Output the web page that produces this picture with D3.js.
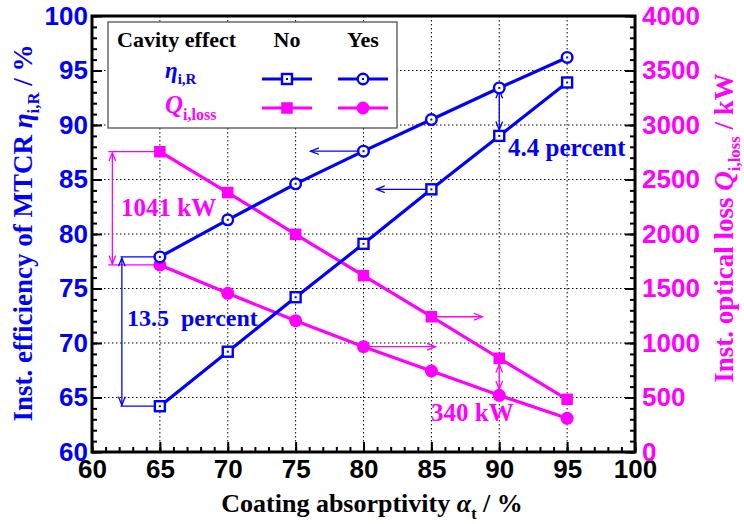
<!DOCTYPE html>
<html lang="en">
  <head>
    <meta charset="utf-8">
    <style type="text/css">
      body { margin: 0; background: #fff; }
      svg { font-family: "Liberation Serif", "Times New Roman", serif; font-weight: bold; }
      .grid line { stroke: #000; stroke-width: 1; stroke-dasharray: 1.5,2.5; }
      .axis path { display: none; }
      .axis line { stroke: #000; stroke-width: 2; }
    </style>
  </head>
  <body>
    <svg id="chart" width="744" height="524"></svg>
    <script src="https://cdn.jsdelivr.net/npm/d3@7"></script>
    <script type="text/javascript">
// coating absorptivity (%)
var alpha = [65, 70, 75, 80, 85, 90, 95];
// instantaneous efficiency of MTCR (%)
var etaNo  = [64.2, 69.2, 74.2, 79.1, 84.1, 89.0, 93.9];
var etaYes = [77.9, 81.3, 84.6, 87.6, 90.5, 93.4, 96.2];
// instantaneous optical loss (kW)
var qNo  = [2755, 2380, 1997, 1618, 1241, 860, 483];
var qYes = [1716, 1456, 1205, 966, 743, 520, 309];

var xTicks = [60, 65, 70, 75, 80, 85, 90, 95, 100];
var yLeftTicks = [60, 65, 70, 75, 80, 85, 90, 95, 100];
var yRightTicks = [0, 500, 1000, 1500, 2000, 2500, 3000, 3500, 4000];

var blue = "#0000ff", magenta = "#ff00ff";

var margin = { top: 16, right: 109, bottom: 72, left: 92 };
var width = 744, height = 524;

var svg = d3.select("#chart");

var x = d3.scaleLinear().domain([60, 100]).range([margin.left, width - margin.right]);
var yL = d3.scaleLinear().domain([60, 100]).range([height - margin.bottom, margin.top]);
var yR = d3.scaleLinear().domain([0, 4000]).range([height - margin.bottom, margin.top]);

var x0 = x.range()[0], x1 = x.range()[1], yb = yL.range()[0], yt = yL.range()[1];

// grid
var grid = svg.append("g").attr("class", "grid");
grid.selectAll("line.v").data(xTicks.slice(1, -1)).enter().append("line")
  .attr("x1", function(d) { return x(d); }).attr("x2", function(d) { return x(d); })
  .attr("y1", yt).attr("y2", yb);
grid.selectAll("line.h").data(yLeftTicks.slice(1, -1)).enter().append("line")
  .attr("x1", x0).attr("x2", x1)
  .attr("y1", function(d) { return yL(d); }).attr("y2", function(d) { return yL(d); });

// axes (ticks inward)
svg.append("g").attr("class", "axis").attr("transform", "translate(0," + yb + ")")
  .call(d3.axisBottom(x).tickValues(d3.range(60, 101, 1)).tickSize(-5).tickFormat(""));
var xAxis = svg.append("g").attr("class", "axis").attr("transform", "translate(0," + yb + ")")
  .call(d3.axisBottom(x).tickValues(xTicks).tickSize(-10).tickPadding(8));
xAxis.selectAll("text").attr("font-size", 26).attr("fill", "#000").attr("font-family", null);

svg.append("g").attr("class", "axis").attr("transform", "translate(" + x0 + ",0)")
  .call(d3.axisLeft(yL).tickValues(d3.range(60, 101, 1)).tickSize(-5).tickFormat(""));
var yAxisL = svg.append("g").attr("class", "axis").attr("transform", "translate(" + x0 + ",0)")
  .call(d3.axisLeft(yL).tickValues(yLeftTicks).tickSize(-10).tickPadding(4));
yAxisL.selectAll("text").attr("font-size", 26).attr("fill", blue).attr("font-family", null);

svg.append("g").attr("class", "axis").attr("transform", "translate(" + x1 + ",0)")
  .call(d3.axisRight(yR).tickValues(d3.range(0, 4001, 100)).tickSize(-5).tickFormat(""));
var yAxisR = svg.append("g").attr("class", "axis").attr("transform", "translate(" + x1 + ",0)")
  .call(d3.axisRight(yR).tickValues(yRightTicks).tickFormat(d3.format("d")).tickSize(-10).tickPadding(7));
yAxisR.selectAll("text").attr("font-size", 26).attr("fill", magenta).attr("font-family", null);

svg.selectAll(".axis text").attr("font-weight", "bold");

// frame
svg.append("rect").attr("x", x0).attr("y", yt).attr("width", x1 - x0).attr("height", yb - yt)
  .attr("fill", "none").attr("stroke", "#000").attr("stroke-width", 3);

// axis titles
function labelWithSub(sel, before, sym, sub, after, size) {
  sel.append("tspan").text(before);
  sel.append("tspan").attr("font-style", "italic").text(sym);
  sel.append("tspan").attr("font-size", size * 0.62).attr("dy", size * 0.25).text(sub);
  sel.append("tspan").attr("dy", -size * 0.25).text(after);
}
var tl = svg.append("text").attr("transform", "translate(32,233) rotate(-90)")
  .attr("text-anchor", "middle").attr("font-size", 27).attr("fill", blue);
labelWithSub(tl, "Inst. efficiency of MTCR ", "\u03b7", "i,R", " / %", 27);

var tr = svg.append("text").attr("transform", "translate(733,228) rotate(-90)")
  .attr("text-anchor", "middle").attr("font-size", 27).attr("fill", magenta);
labelWithSub(tr, "Inst. optical loss ", "Q", "i,loss", " / kW", 27);

var tb = svg.append("text").attr("x", 372).attr("y", 512)
  .attr("text-anchor", "middle").attr("font-size", 26).attr("fill", "#000");
labelWithSub(tb, "Coating absorptivity ", "\u03b1", "t", " / %", 26);

// arrows
var ann = svg.append("g");
function arrowHead(g, xa, ya, xb, yb2, color) {
  var a = Math.atan2(yb2 - ya, xb - xa), L = 9, w = 0.38;
  g.append("path")
    .attr("d", "M" + (xb - L * Math.cos(a - w)) + "," + (yb2 - L * Math.sin(a - w)) +
      "L" + xb + "," + yb2 + "L" + (xb - L * Math.cos(a + w)) + "," + (yb2 - L * Math.sin(a + w)))
    .attr("fill", "none").attr("stroke", color).attr("stroke-width", 1.3);
}
function arrow(xa, ya, xb, yb2, color, both) {
  ann.append("line").attr("x1", xa).attr("y1", ya).attr("x2", xb).attr("y2", yb2)
    .attr("stroke", color).attr("stroke-width", 1.3);
  arrowHead(ann, xa, ya, xb, yb2, color);
  if (both) arrowHead(ann, xb, yb2, xa, ya, color);
}
function hline(xa, xb, yy, color) {
  ann.append("line").attr("x1", xa).attr("x2", xb).attr("y1", yy).attr("y2", yy)
    .attr("stroke", color).attr("stroke-width", 1.3);
}

// 1041 kW bracket
hline(x(61.2), x(alpha[0]), yR(qNo[0]), magenta);
hline(x(61.2), x(alpha[0]), yR(qYes[0]), magenta);
arrow(x(61.5), yR(qNo[0]) + 1, x(61.5), yR(qYes[0]) - 1, magenta, true);
// 13.5 percent bracket
hline(x(62.1), x(alpha[0]), yL(etaYes[0]), blue);
hline(x(62.1), x(alpha[0]), yL(etaNo[0]), blue);
arrow(x(62.2), yL(etaYes[0]) + 1, x(62.2), yL(etaNo[0]) - 1, blue, true);
// 4.4 percent
arrow(x(alpha[5]), yL(etaYes[5]) + 2, x(alpha[5]), yL(etaNo[5]) - 6, blue, true);
// 340 kW
arrow(x(alpha[5]), yR(qNo[5]) + 6, x(alpha[5]), yR(qYes[5]) - 6, magenta, true);
// axis pointers
arrow(x(alpha[3]), yL(etaYes[3]), x(76.1), yL(etaYes[3]), blue, false);
arrow(x(alpha[4]), yL(etaNo[4]), x(80.95), yL(etaNo[4]), blue, false);
arrow(x(alpha[4]), yR(qNo[4]), x(88.75), yR(qNo[4]), magenta, false);
arrow(x(alpha[3]), yR(qYes[3]), x(85.3), yR(qYes[3]), magenta, false);

// series
var lineL = d3.line().x(function(d, i) { return x(alpha[i]); }).y(function(d) { return yL(d); });
var lineR = d3.line().x(function(d, i) { return x(alpha[i]); }).y(function(d) { return yR(d); });

function pathOf(data, gen, color) {
  svg.append("path").datum(data).attr("d", gen)
    .attr("fill", "none").attr("stroke", color).attr("stroke-width", 3.2);
}
pathOf(qNo, lineR, magenta);
pathOf(qYes, lineR, magenta);
pathOf(etaNo, lineL, blue);
pathOf(etaYes, lineL, blue);

function squareMarkers(g, pts, color, open) {
  var s = open ? 10 : 11.5;
  g.selectAll(null).data(pts).enter().append("rect")
    .attr("x", function(d) { return d[0] - s / 2; }).attr("y", function(d) { return d[1] - s / 2; })
    .attr("width", s).attr("height", s)
    .attr("fill", open ? "#fff" : color).attr("stroke", open ? color : "none").attr("stroke-width", 2.4);
  if (open) g.selectAll(null).data(pts).enter().append("rect")
    .attr("x", function(d) { return d[0] - 1; }).attr("y", function(d) { return d[1] - 1; })
    .attr("width", 2).attr("height", 2).attr("fill", color);
}
function circleMarkers(g, pts, color, open) {
  g.selectAll(null).data(pts).enter().append("circle")
    .attr("cx", function(d) { return d[0]; }).attr("cy", function(d) { return d[1]; })
    .attr("r", open ? 5.3 : 6.5)
    .attr("fill", open ? "#fff" : color).attr("stroke", open ? color : "none").attr("stroke-width", 2.4);
  if (open) g.selectAll(null).data(pts).enter().append("rect")
    .attr("x", function(d) { return d[0] - 1; }).attr("y", function(d) { return d[1] - 1; })
    .attr("width", 2).attr("height", 2).attr("fill", color);
}
var mk = svg.append("g");
squareMarkers(mk, qNo.map(function(d, i) { return [x(alpha[i]), yR(d)]; }), magenta, false);
circleMarkers(mk, qYes.map(function(d, i) { return [x(alpha[i]), yR(d)]; }), magenta, false);
squareMarkers(mk, etaNo.map(function(d, i) { return [x(alpha[i]), yL(d)]; }), blue, true);
circleMarkers(mk, etaYes.map(function(d, i) { return [x(alpha[i]), yL(d)]; }), blue, true);

// annotation labels
svg.append("text").attr("x", 121).attr("y", 216).attr("font-size", 25).attr("fill", magenta).text("1041 kW");
svg.append("text").attr("x", 127).attr("y", 326).attr("font-size", 24).attr("fill", blue)
  .style("white-space", "pre").text("13.5  percent");
svg.append("text").attr("x", 508).attr("y", 156).attr("font-size", 25).attr("fill", blue).text("4.4 percent");
svg.append("text").attr("x", 431).attr("y", 421).attr("font-size", 25).attr("fill", magenta).text("340 kW");

// legend
var lg = svg.append("g");
lg.append("rect").attr("x", 108).attr("y", 22).attr("width", 289).attr("height", 106)
  .attr("fill", "#fff").attr("stroke", "#444").attr("stroke-width", 1.2);
lg.append("text").attr("x", 117).attr("y", 47).attr("font-size", 22).attr("fill", "#000").text("Cavity effect");
lg.append("text").attr("x", 287).attr("y", 47).attr("text-anchor", "middle").attr("font-size", 22).text("No");
lg.append("text").attr("x", 363).attr("y", 47).attr("text-anchor", "middle").attr("font-size", 22).text("Yes");
var le = lg.append("text").attr("x", 165).attr("y", 78).attr("font-size", 23).attr("fill", blue);
le.append("tspan").attr("font-style", "italic").text("\u03b7");
le.append("tspan").attr("font-size", 15).attr("dy", 6).text("i,R");
var lq = lg.append("text").attr("x", 165).attr("y", 113).attr("font-size", 25).attr("fill", magenta);
lq.append("tspan").attr("font-style", "italic").text("Q");
lq.append("tspan").attr("font-size", 16).attr("dy", 7).text("i,loss");

[[79, blue, true], [108, magenta, false]].forEach(function(r) {
  [[262, 312, squareMarkers], [338, 388, circleMarkers]].forEach(function(c) {
    lg.append("line").attr("x1", c[0]).attr("x2", c[1]).attr("y1", r[0]).attr("y2", r[0])
      .attr("stroke", r[1]).attr("stroke-width", 3.2);
    c[2](lg, [[(c[0] + c[1]) / 2, r[0]]], r[1], r[2]);
  });
});
    </script>
  </body>
</html>
